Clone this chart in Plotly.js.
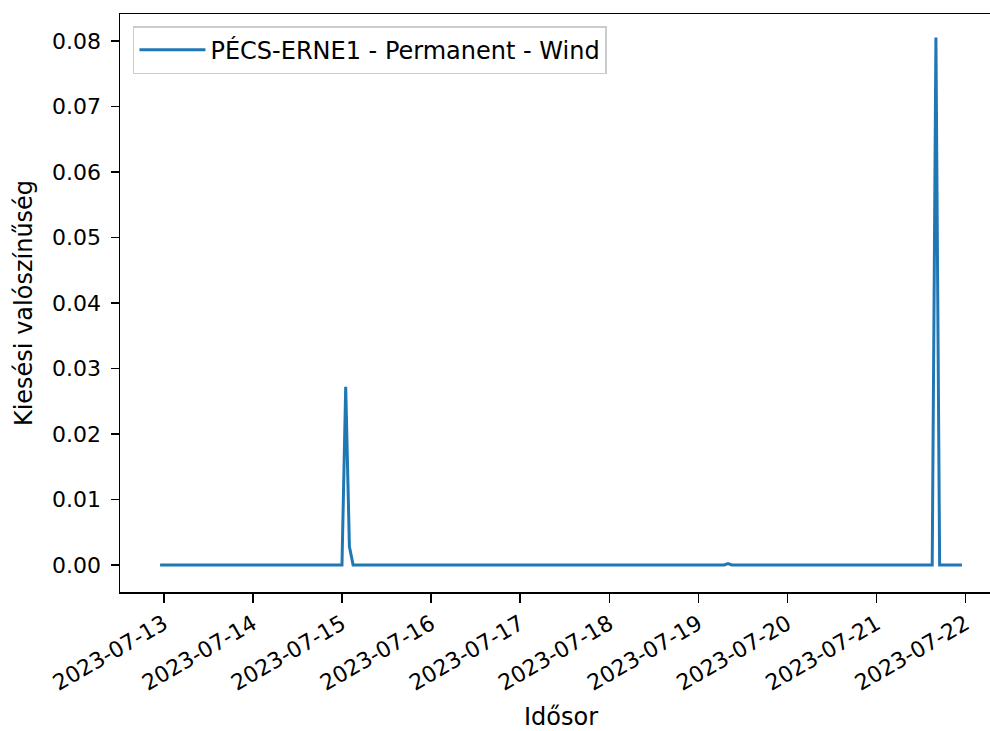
<!DOCTYPE html>
<html>
<head>
<meta charset="utf-8">
<script src="https://cdn.plot.ly/plotly-3.0.1.min.js"></script>
<style>
html, body { margin: 0; padding: 0; overflow: hidden; background: #fff; }
#chart { width: 1010px; height: 731px; }
</style>
</head>
<body>
<div id="chart"></div>
<script>
// Data (values between listed times are 0, drawn as straight segments)
const times = [
  "2023-07-12 23:00",
  "2023-07-15 00:00",
  "2023-07-15 01:00",
  "2023-07-15 02:00",
  "2023-07-15 03:00",
  "2023-07-19 07:00",
  "2023-07-19 08:00",
  "2023-07-19 09:00",
  "2023-07-21 15:00",
  "2023-07-21 16:00",
  "2023-07-21 17:00",
  "2023-07-21 23:00"
];
const probability = [0, 0, 0.0272, 0.0028, 0, 0, 0.0002, 0, 0, 0.0805, 0, 0];
const seriesName = "PÉCS-ERNE1 - Permanent - Wind";
const xTitle = "Idősor";
const yTitle = "Kiesési valószínűség";
const yTicks = [0, 0.01, 0.02, 0.03, 0.04, 0.05, 0.06, 0.07, 0.08];
const xTicks = ["2023-07-13", "2023-07-14", "2023-07-15", "2023-07-16", "2023-07-17",
                "2023-07-18", "2023-07-19", "2023-07-20", "2023-07-21", "2023-07-22"];

const family = "DejaVu Sans, sans-serif";
const bigFont = { family: family, size: 24, color: "#000" };
const tickFont = { family: family, size: 22, color: "#000" };

const trace = {
  x: times,
  y: probability,
  type: "scatter",
  mode: "lines",
  name: seriesName,
  line: { color: "#1f77b4", width: 3 },
  showlegend: true
};

const layout = {
  width: 1010,
  height: 731,
  margin: { l: 120, r: 8, t: 14, b: 139 },
  paper_bgcolor: "#fff",
  plot_bgcolor: "#fff",
  font: bigFont,
  showlegend: true,
  legend: {
    x: 0.0147, y: 0.979, xanchor: "left", yanchor: "top",
    bgcolor: "rgba(255,255,255,0.8)",
    bordercolor: "#cccccc", borderwidth: 1.5,
    itemwidth: 66,
    font: bigFont
  },
  xaxis: {
    type: "date",
    range: ["2023-07-12 12:12", "2023-07-22 09:48"],
    tickvals: xTicks,
    ticktext: xTicks,
    tickangle: -30,
    ticks: "outside", ticklen: 9, tickwidth: 1.5, tickcolor: "#000",
    showline: true, linecolor: "#000", linewidth: 1.5, mirror: true,
    showgrid: false, zeroline: false,
    tickfont: tickFont,
    title: { text: xTitle, font: bigFont, standoff: 14 },
    automargin: false
  },
  yaxis: {
    range: [-0.00412, 0.0841],
    tickvals: yTicks,
    tickformat: ".2f",
    ticks: "outside", ticklen: 8, tickwidth: 1.5, tickcolor: "#000",
    ticklabelstandoff: 5,
    showline: true, linecolor: "#000", linewidth: 1.5, mirror: true,
    showgrid: false, zeroline: false,
    tickfont: tickFont,
    title: { text: yTitle, font: bigFont, standoff: 12 },
    automargin: false
  }
};

Plotly.newPlot("chart", [trace], layout, { displayModeBar: false, staticPlot: true });
</script>
</body>
</html>
